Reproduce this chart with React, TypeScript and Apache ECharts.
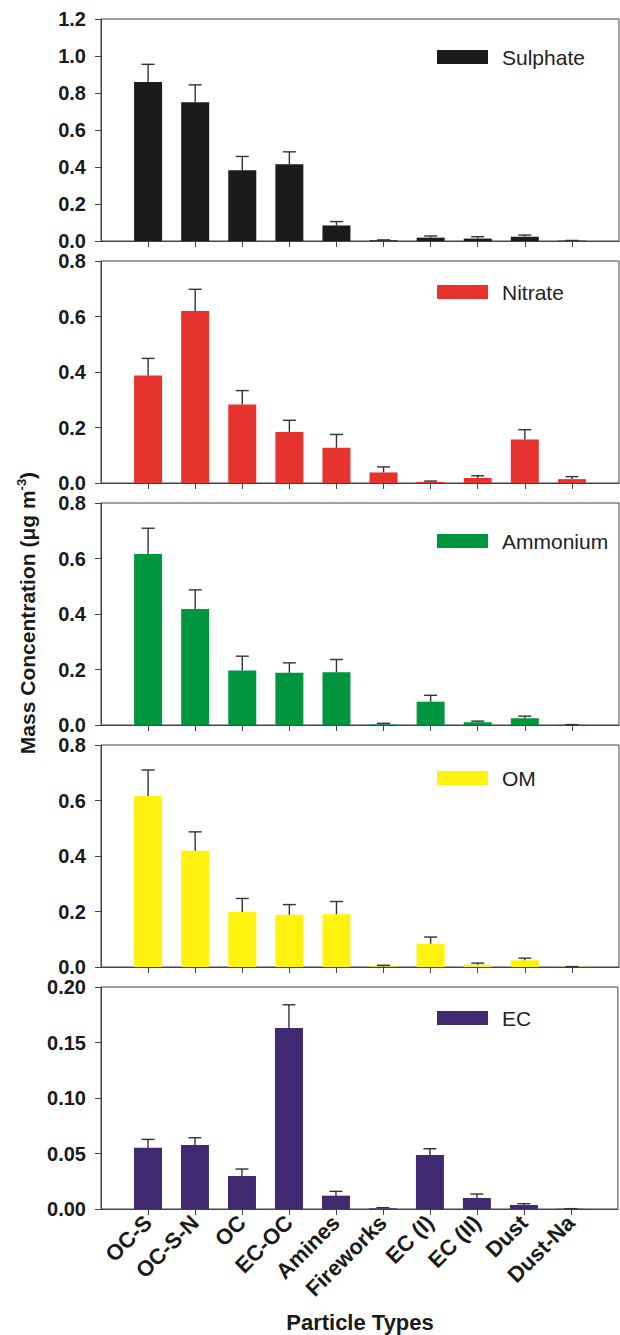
import React, { useEffect, useRef } from "react";
import * as echarts from "echarts";

const categories = ["OC-S", "OC-S-N", "OC", "EC-OC", "Amines", "Fireworks", "EC (I)", "EC (II)", "Dust", "Dust-Na"];

const sulphateValues = [0.86, 0.75, 0.383, 0.415, 0.084, 0.004, 0.018, 0.013, 0.023, 0.002];
const sulphateErrors = [0.095, 0.094, 0.074, 0.067, 0.021, 0.002, 0.009, 0.01, 0.009, 0.001];

const nitrateValues = [0.387, 0.62, 0.283, 0.184, 0.127, 0.038, 0.004, 0.018, 0.157, 0.014];
const nitrateErrors = [0.062, 0.078, 0.05, 0.042, 0.048, 0.02, 0.003, 0.008, 0.035, 0.009];

const ammoniumValues = [0.616, 0.418, 0.196, 0.188, 0.19, 0.002, 0.084, 0.01, 0.024, 0.001];
const ammoniumErrors = [0.093, 0.069, 0.052, 0.036, 0.046, 0.004, 0.023, 0.004, 0.008, 0.0005];

const omValues = [0.616, 0.419, 0.198, 0.188, 0.19, 0.002, 0.084, 0.008, 0.024, 0.001];
const omErrors = [0.094, 0.068, 0.049, 0.037, 0.046, 0.004, 0.024, 0.006, 0.008, 0.0005];

const ecValues = [0.0552, 0.0576, 0.0297, 0.163, 0.012, 0.0006, 0.0486, 0.0099, 0.0036, 0.0002];
const ecErrors = [0.0075, 0.0066, 0.0063, 0.021, 0.0039, 0.0006, 0.0057, 0.0036, 0.0012, 0.0001];

const panelNames = ["Sulphate", "Nitrate", "Ammonium", "OM", "EC"];
const panelColors = ["#1b1b1b", "#e7332d", "#00963f", "#fff20f", "#412a72"];
const panelMax = [1.2, 0.8, 0.8, 0.8, 0.2];
const panelInterval = [0.2, 0.2, 0.2, 0.2, 0.05];
const panelDecimals = [1, 1, 1, 1, 2];
const panelValues = [sulphateValues, nitrateValues, ammoniumValues, omValues, ecValues];
const panelErrors = [sulphateErrors, nitrateErrors, ammoniumErrors, omErrors, ecErrors];

const yTitle = "Mass Concentration (μg m";
const xTitle = "Particle Types";

const FONT = "'Liberation Sans', Arial, Helvetica, sans-serif";
const gridTops = [19, 261, 503, 745, 987];
const gridHeight = 222;
const legendCenters = [57, 292, 541, 778, 1018];

export default function App() {
  const ref = useRef<HTMLDivElement>(null);
  useEffect(() => {
    if (!ref.current) return;
    const chart = echarts.init(ref.current, undefined, { renderer: "svg" });
    const axisData = ["", ...categories, ""];

    const grids = gridTops.map((t) => ({
      left: 101,
      width: 518,
      top: t,
      height: gridHeight,
      show: true,
      borderColor: "#444",
      borderWidth: 1,
      backgroundColor: "transparent",
      containLabel: false,
    }));

    const xAxes = panelNames.map((_, i) => ({
      type: "category",
      gridIndex: i,
      data: axisData,
      boundaryGap: false,
      axisLine: { show: true, lineStyle: { color: "#444", width: 1 } },
      axisTick: {
        show: true,
        length: 6,
        inside: false,
        interval: (idx: number) => idx > 0 && idx < axisData.length - 1,
        lineStyle: { color: "#444", width: 1 },
      },
      axisLabel: {
        show: i === 4,
        interval: 0,
        rotate: 45,
        margin: 10,
        fontSize: 22,
        fontWeight: "bold",
        fontFamily: FONT,
        color: "#1a1a1a",
      },
      splitLine: { show: false },
    }));

    const yAxes = panelNames.map((_, i) => ({
      type: "value",
      gridIndex: i,
      min: 0,
      max: panelMax[i],
      interval: panelInterval[i],
      axisLine: { show: true, lineStyle: { color: "#444", width: 1 } },
      axisTick: { show: true, length: 6, lineStyle: { color: "#444", width: 1 } },
      axisLabel: {
        margin: 15,
        fontSize: 20,
        fontWeight: "bold",
        fontFamily: FONT,
        color: "#1a1a1a",
        formatter: (v: number) => v.toFixed(panelDecimals[i]),
      },
      splitLine: { show: false },
    }));

    const series: any[] = [];
    panelNames.forEach((name, i) => {
      series.push({
        type: "bar",
        name,
        xAxisIndex: i,
        yAxisIndex: i,
        barWidth: 28,
        itemStyle: { color: panelColors[i] },
        data: ["-", ...panelValues[i], "-"],
        z: 2,
      });
      series.push({
        type: "custom",
        name: name + " error",
        xAxisIndex: i,
        yAxisIndex: i,
        z: 3,
        encode: { x: 0, y: 1 },
        data: categories.map((_, k) => [k + 1, panelValues[i][k], panelErrors[i][k]]),
        renderItem: (params: any, api: any) => {
          const x = api.value(0);
          const v = api.value(1);
          const e = api.value(2);
          const p0 = api.coord([x, v]);
          const p1 = api.coord([x, v + e]);
          const st = { stroke: "#333", lineWidth: 1.4 };
          return {
            type: "group",
            children: [
              { type: "line", shape: { x1: p0[0], y1: p0[1], x2: p1[0], y2: p1[1] }, style: st },
              { type: "line", shape: { x1: p1[0] - 6.5, y1: p1[1], x2: p1[0] + 6.5, y2: p1[1] }, style: st },
            ],
          };
        },
      });
    });

    const legends = panelNames.map((name, i) => ({
      data: [name],
      left: 437,
      top: legendCenters[i] - 12,
      padding: 0,
      icon: "rect",
      itemWidth: 51,
      itemHeight: 14,
      selectedMode: false,
      textStyle: {
        fontSize: 21,
        fontFamily: FONT,
        color: "#222",
        lineHeight: 24,
        padding: [0, 0, 0, 9],
      },
    }));

    chart.setOption({
      animation: false,
      backgroundColor: "#ffffff",
      grid: grids,
      xAxis: xAxes,
      yAxis: yAxes,
      legend: legends,
      series,
      graphic: [
        {
          type: "text",
          x: 27,
          y: 613,
          rotation: Math.PI / 2,
          style: {
            text: "{a|" + yTitle + "}{s|-3}{a|)}",
            align: "center",
            verticalAlign: "middle",
            rich: {
              a: { fontSize: 21, fontWeight: "bold", fontFamily: FONT, fill: "#1a1a1a", lineHeight: 25 },
              s: { fontSize: 13, fontWeight: "bold", fontFamily: FONT, fill: "#1a1a1a", verticalAlign: "top", lineHeight: 13 },
            },
          },
        },
        {
          type: "text",
          x: 360,
          y: 1322,
          style: {
            text: xTitle,
            align: "center",
            verticalAlign: "middle",
            fontSize: 22,
            fontWeight: "bold",
            fontFamily: FONT,
            fill: "#1a1a1a",
          },
        },
      ],
    });
    return () => chart.dispose();
  }, []);

  return (
    <div
      ref={ref}
      style={{ position: "absolute", left: 0, top: 0, width: 620, height: 1335, background: "#fff" }}
    />
  );
}
